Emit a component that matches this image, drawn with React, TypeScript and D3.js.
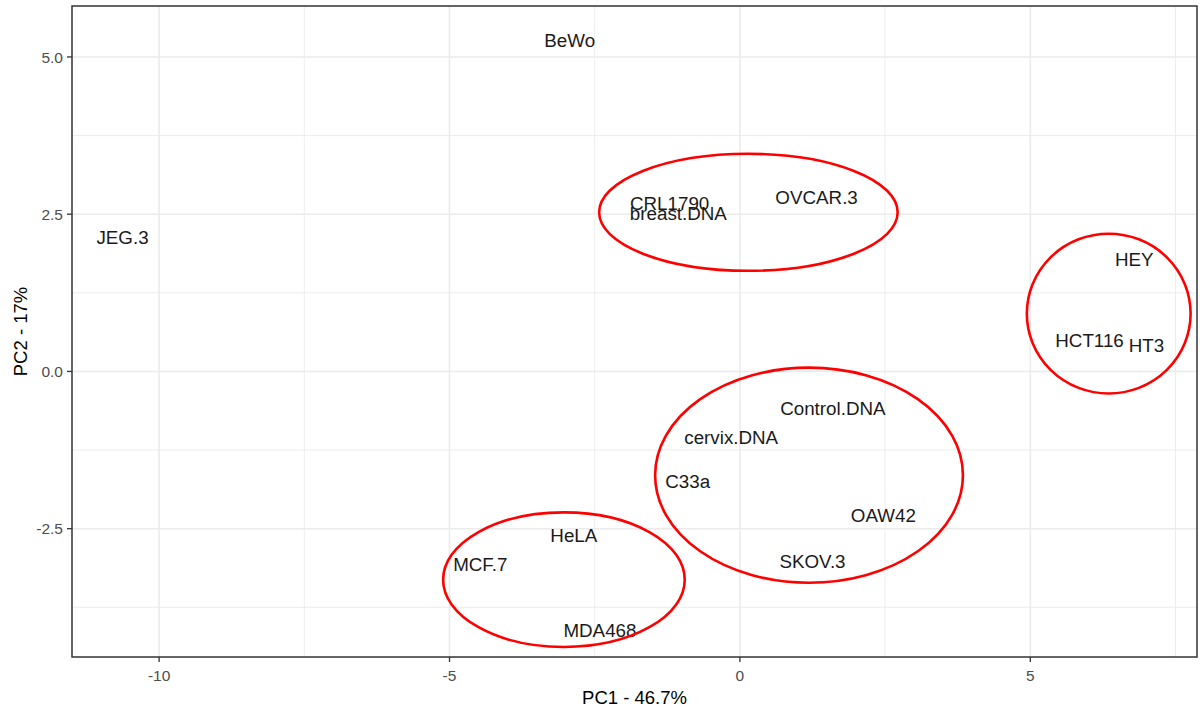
import React from 'react';
import * as d3 from 'd3';

const sampleNames = ['BeWo', 'JEG.3', 'CRL1790', 'breast.DNA', 'OVCAR.3', 'HEY', 'HCT116', 'HT3', 'Control.DNA', 'cervix.DNA', 'C33a', 'OAW42', 'SKOV.3', 'HeLA', 'MCF.7', 'MDA468'];
const pc1Values = [-2.93, -10.63, -1.21, -1.06, 1.32, 6.79, 6.02, 7.0, 1.6, -0.15, -0.9, 2.47, 1.25, -2.86, -4.47, -2.41];
const pc2Values = [5.27, 2.14, 2.68, 2.52, 2.77, 1.78, 0.5, 0.42, -0.59, -1.05, -1.75, -2.28, -3.02, -2.6, -3.07, -4.11];

const ellipseCx = [0.146, 6.35, 1.19, -3.03];
const ellipseCy = [2.53, 0.92, -1.65, -3.31];
const ellipseRx = [2.57, 1.41, 2.65, 2.08];
const ellipseRy = [0.93, 1.27, 1.71, 1.07];

const xMajor = [-10, -5, 0, 5];
const xMinor = [-7.5, -2.5, 2.5, 7.5];
const yMajor = [-2.5, 0, 2.5, 5];
const yMinor = [-3.75, -1.25, 1.25, 3.75];
const yTickLabels = ['-2.5', '0.0', '2.5', '5.0'];

const xTitle = 'PC1 - 46.7%';
const yTitle = 'PC2 - 17%';

export default function App() {
  const left = 72, right = 1197, top = 6, bottom = 657;
  const x = d3.scaleLinear().domain([-11.5, 7.87]).range([left, right]);
  const y = d3.scaleLinear().domain([5.81, -4.54]).range([top, bottom]);
  const font = 'Liberation Sans, Arial, sans-serif';
  return (
    <svg width={1200} height={708} style={{ position: 'absolute', left: 0, top: 0, background: '#fff' }} fontFamily={font}>
      <rect x={0} y={0} width={1200} height={708} fill="#fff" />
      {xMinor.map((v) => (
        <line key={'xm' + v} x1={x(v)} x2={x(v)} y1={top} y2={bottom} stroke="#ebebeb" strokeWidth={0.9} />
      ))}
      {yMinor.map((v) => (
        <line key={'ym' + v} x1={left} x2={right} y1={y(v)} y2={y(v)} stroke="#ebebeb" strokeWidth={0.9} />
      ))}
      {xMajor.map((v) => (
        <line key={'xM' + v} x1={x(v)} x2={x(v)} y1={top} y2={bottom} stroke="#ebebeb" strokeWidth={1.6} />
      ))}
      {yMajor.map((v) => (
        <line key={'yM' + v} x1={left} x2={right} y1={y(v)} y2={y(v)} stroke="#ebebeb" strokeWidth={1.6} />
      ))}
      {sampleNames.map((n, i) => (
        <text key={n} x={x(pc1Values[i])} y={y(pc2Values[i])} dy="0.36em" textAnchor="middle" fontSize={18.8} fill="#1a1a1a">
          {n}
        </text>
      ))}
      {ellipseCx.map((cx, i) => (
        <ellipse key={'e' + i} cx={x(cx)} cy={y(ellipseCy[i])} rx={x(ellipseRx[i]) - x(0)} ry={y(0) - y(ellipseRy[i])} fill="none" stroke="#ff0000" strokeWidth={2.6} />
      ))}
      <rect x={left} y={top} width={right - left} height={bottom - top} fill="none" stroke="#333333" strokeWidth={1.5} />
      {xMajor.map((v) => (
        <g key={'xt' + v}>
          <line x1={x(v)} x2={x(v)} y1={bottom} y2={bottom + 5} stroke="#333333" strokeWidth={1.3} />
          <text x={x(v)} y={bottom + 24} textAnchor="middle" fontSize={15.5} fill="#4d4d4d">{String(v)}</text>
        </g>
      ))}
      {yMajor.map((v, i) => (
        <g key={'yt' + v}>
          <line x1={left - 5} x2={left} y1={y(v)} y2={y(v)} stroke="#333333" strokeWidth={1.3} />
          <text x={left - 9} y={y(v)} dy="0.36em" textAnchor="end" fontSize={15.5} fill="#4d4d4d">{yTickLabels[i]}</text>
        </g>
      ))}
      <text x={(left + right) / 2} y={704} textAnchor="middle" fontSize={18.5} fill="#000">{xTitle}</text>
      <text transform={`translate(27,${(top + bottom) / 2}) rotate(-90)`} textAnchor="middle" fontSize={18.5} fill="#000">{yTitle}</text>
    </svg>
  );
}
